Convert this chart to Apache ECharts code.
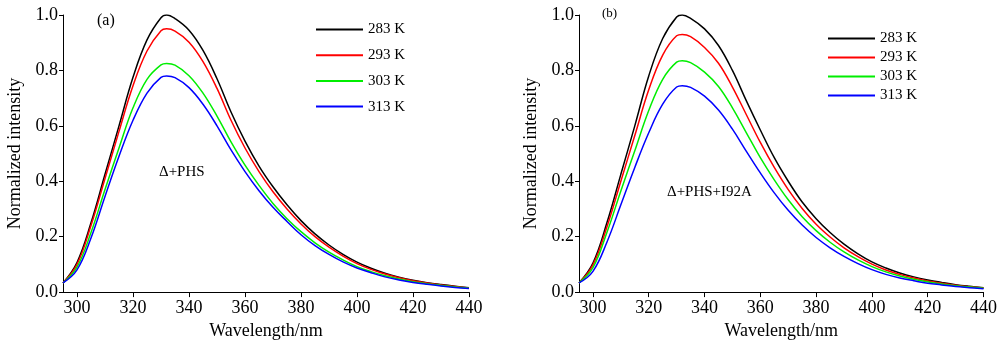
<!DOCTYPE html>
<html>
<head>
<meta charset="utf-8">
<script src="https://cdn.jsdelivr.net/npm/echarts@6/dist/echarts.min.js"></script>
<style>html,body{margin:0;padding:0;background:#fff}#c{width:1000px;height:345px}</style>
</head>
<body>
<div id="c"></div>
<script>
const wavelengths = [295,300,305,310,315,320,325,330,332,335,340,345,350,355,360,365,370,375,380,385,390,395,400,405,410,415,420,425,430,435,440];
const seriesNames = ['283 K','293 K','303 K','313 K'];
const xTicks = [300,320,340,360,380,400,420,440];

// Panel (a): Δ+PHS
const a283 = [0.033,0.107,0.25,0.425,0.60,0.775,0.91,0.99,1.0,0.987,0.945,0.872,0.77,0.65,0.545,0.455,0.38,0.315,0.258,0.21,0.17,0.136,0.108,0.086,0.068,0.054,0.043,0.034,0.027,0.021,0.016];
const a293 = [0.033,0.10,0.24,0.41,0.58,0.745,0.87,0.943,0.95,0.942,0.902,0.832,0.735,0.62,0.52,0.435,0.362,0.30,0.246,0.20,0.162,0.13,0.103,0.082,0.065,0.052,0.041,0.033,0.026,0.02,0.015];
const a303 = [0.033,0.09,0.215,0.37,0.52,0.665,0.768,0.82,0.825,0.819,0.781,0.718,0.635,0.542,0.458,0.385,0.32,0.265,0.218,0.178,0.144,0.116,0.092,0.074,0.059,0.047,0.037,0.03,0.024,0.018,0.014];
const a313 = [0.033,0.08,0.195,0.345,0.49,0.62,0.718,0.775,0.78,0.774,0.738,0.678,0.60,0.513,0.435,0.366,0.306,0.255,0.207,0.168,0.136,0.109,0.087,0.07,0.055,0.044,0.035,0.028,0.022,0.017,0.013];

// Panel (b): Δ+PHS+I92A
const b283 = [0.033,0.105,0.25,0.425,0.60,0.78,0.915,0.993,1.0,0.988,0.95,0.89,0.80,0.69,0.585,0.485,0.40,0.325,0.265,0.215,0.173,0.138,0.109,0.087,0.069,0.055,0.044,0.035,0.027,0.021,0.016];
const b293 = [0.033,0.098,0.235,0.40,0.565,0.73,0.855,0.925,0.93,0.922,0.883,0.826,0.74,0.64,0.54,0.45,0.37,0.302,0.245,0.199,0.16,0.128,0.101,0.08,0.064,0.051,0.04,0.032,0.025,0.019,0.015];
const b303 = [0.033,0.088,0.215,0.365,0.51,0.655,0.768,0.83,0.835,0.828,0.794,0.742,0.665,0.575,0.485,0.405,0.333,0.272,0.222,0.18,0.145,0.116,0.092,0.073,0.058,0.046,0.037,0.029,0.023,0.018,0.014];
const b313 = [0.033,0.075,0.18,0.315,0.45,0.575,0.678,0.74,0.745,0.739,0.707,0.657,0.588,0.508,0.43,0.358,0.295,0.242,0.197,0.16,0.129,0.103,0.081,0.064,0.051,0.041,0.032,0.026,0.02,0.016,0.012];

const colors = ['#000000','#ff0000','#00ee00','#0000ff'];
const FONT = "'Liberation Serif','Times New Roman',serif";

function pairs(ys){ return wavelengths.map((x,i)=>[x, ys[i]]); }

function xAxis(gi){
  return {
    type:'value', gridIndex:gi, min:295, max:440,
    axisLine:{show:true,onZero:false,lineStyle:{color:'#000',width:1}},
    axisTick:{show:true,length:5,lineStyle:{color:'#000'},customValues:xTicks},
    axisLabel:{color:'#000',fontFamily:FONT,fontSize:18,margin:7,customValues:xTicks},
    splitLine:{show:false},
    name:'Wavelength/nm', nameLocation:'middle', nameGap:27,
    nameTextStyle:{color:'#000',fontFamily:FONT,fontSize:18}
  };
}
function yAxis(gi){
  return {
    type:'value', gridIndex:gi, min:0, max:1.0, interval:0.2,
    axisLine:{show:true,lineStyle:{color:'#000',width:1}},
    axisTick:{show:true,length:4,lineStyle:{color:'#000'}},
    axisLabel:{color:'#000',fontFamily:FONT,fontSize:18,margin:5,formatter:v=>v.toFixed(1)},
    splitLine:{show:false},
    name:'Normalized intensity', nameLocation:'middle', nameGap:39,
    nameTextStyle:{color:'#000',fontFamily:FONT,fontSize:18}
  };
}
function mk(name, data, gi, ci){
  return {name, type:'line', xAxisIndex:gi, yAxisIndex:gi, data:pairs(data), symbol:'none', smooth:0.4,
    lineStyle:{color:colors[ci],width:1.5}, itemStyle:{color:colors[ci]}, animation:false};
}

const chart = echarts.init(document.getElementById('c'), null, {renderer:'canvas'});
chart.setOption({
  backgroundColor:'#fff',
  animation:false,
  grid:[
    {left:63, top:15, width:406, height:280},
    {left:579, top:15, width:406, height:280}
  ],
  xAxis:[xAxis(0), xAxis(1)],
  yAxis:[yAxis(0), yAxis(1)],
  legend:[
    {data:seriesNames, left:310, top:17, orient:'vertical', itemWidth:47, itemHeight:14, itemGap:10.7,
     itemStyle:{opacity:0}, textStyle:{color:'#000',fontFamily:FONT,fontSize:15}},
    {data:seriesNames, left:822, top:26, orient:'vertical', itemWidth:47, itemHeight:14, itemGap:4,
     itemStyle:{opacity:0}, textStyle:{color:'#000',fontFamily:FONT,fontSize:15}}
  ],
  graphic:[
    {type:'text', left:97, top:13, style:{text:'(a)', fill:'#000', font:"16px "+FONT}},
    {type:'text', left:602, top:7, style:{text:'(b)', fill:'#000', font:"13px "+FONT}},
    {type:'text', left:159, top:165, style:{text:'Δ+PHS', fill:'#000', font:"15px "+FONT}},
    {type:'text', left:667, top:185, style:{text:'Δ+PHS+I92A', fill:'#000', font:"15px "+FONT}}
  ],
  series:[
    mk(seriesNames[0], a283, 0, 0), mk(seriesNames[1], a293, 0, 1), mk(seriesNames[2], a303, 0, 2), mk(seriesNames[3], a313, 0, 3),
    mk(seriesNames[0], b283, 1, 0), mk(seriesNames[1], b293, 1, 1), mk(seriesNames[2], b303, 1, 2), mk(seriesNames[3], b313, 1, 3)
  ]
});
</script>
</body>
</html>
